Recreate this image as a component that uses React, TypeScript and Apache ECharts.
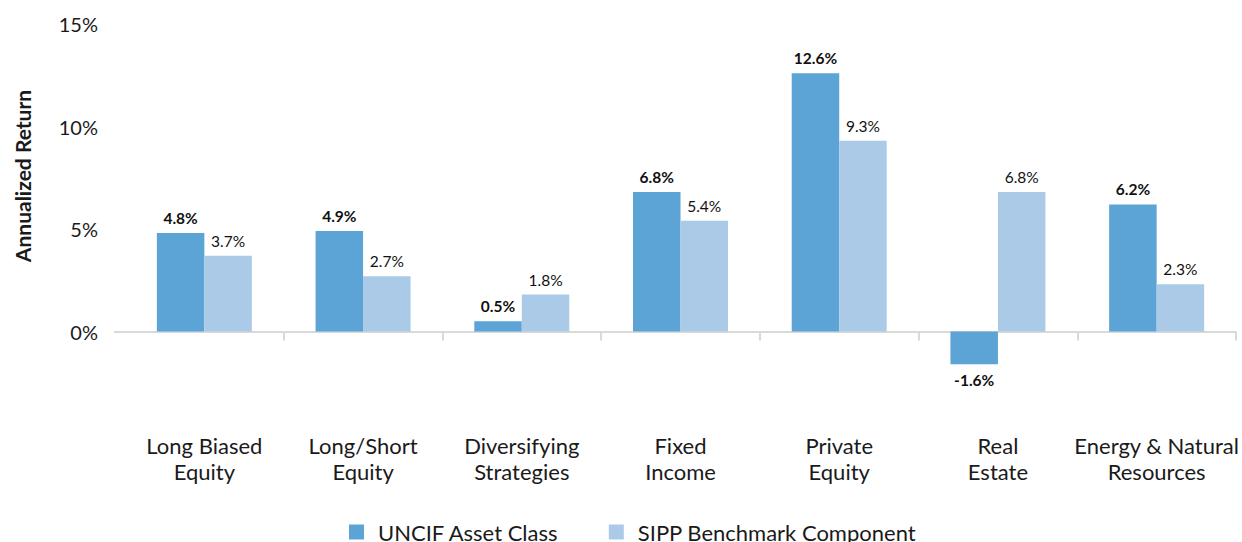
import React, { useEffect, useRef } from "react";
import * as echarts from "echarts";

const categories = [
  "Long Biased\nEquity",
  "Long/Short\nEquity",
  "Diversifying\nStrategies",
  "Fixed\nIncome",
  "Private\nEquity",
  "Real\nEstate",
  "Energy & Natural\nResources",
];
const uncifValues = [4.8, 4.9, 0.5, 6.8, 12.6, -1.6, 6.2];
const sippValues = [3.7, 2.7, 1.8, 5.4, 9.3, 6.8, 2.3];
const seriesNames = ["UNCIF Asset Class", "SIPP Benchmark Component"];
const yTicks = { min: -5, max: 15, interval: 5 };
const yAxisTitle = "Annualized Return";

const FONT = "Lato, 'Noto Sans', sans-serif";

export default function App() {
  const ref = useRef<HTMLDivElement>(null);
  useEffect(() => {
    document.body.style.margin = "0";
    const chart = echarts.init(ref.current!, null, { renderer: "svg" });
    const fmt = (v: number) => `${v.toFixed(1)}%`;
    const n = categories.length;
    chart.setOption({
      animation: false,
      textStyle: { fontFamily: FONT },
      grid: { left: 125, right: 3, top: 24, bottom: 108, containLabel: false },
      legend: {
        data: seriesNames,
        top: 516,
        left: 344,
        itemWidth: 15,
        itemHeight: 15,
        itemGap: 50,
        icon: "rect",
        textStyle: { fontSize: 22, color: "#1a1a1a", fontFamily: FONT, padding: [0, 0, 0, 9] },
      },
      xAxis: [
        {
          type: "category",
          data: categories,
          position: "bottom",
          axisLine: { show: false, onZero: false },
          axisTick: { show: false },
          axisLabel: {
            fontSize: 22,
            color: "#1a1a1a",
            lineHeight: 26,
            margin: -2,
            interval: 0,
          },
        },
        {
          type: "category",
          data: categories,
          position: "bottom",
          axisLine: { show: true, onZero: true, lineStyle: { color: "#d9d9d9", width: 2 } },
          axisTick: {
            show: true,
            length: 9,
            lineStyle: { color: "#d9d9d9", width: 2 },
            interval: (i: number) => i > 0 && i < n,
          },
          axisLabel: { show: false },
        },
      ],
      yAxis: {
        type: "value",
        min: yTicks.min,
        max: yTicks.max,
        interval: yTicks.interval,
        axisLine: { show: false },
        axisTick: { show: false },
        splitLine: { show: false },
        axisLabel: {
          fontSize: 20,
          color: "#1a1a1a",
          margin: 27,
          formatter: (v: number) => (v < 0 ? "" : `${v}%`),
        },
      },
      graphic: [
        {
          type: "line",
          shape: { x1: 114, y1: 332, x2: 126, y2: 332 },
          style: { stroke: "#d9d9d9", lineWidth: 2 },
        },
        {
          type: "text",
          x: 22,
          y: 176,
          rotation: Math.PI / 2,
          style: {
            text: yAxisTitle,
            fontSize: 21,
            fontWeight: "bold",
            fill: "#1a1a1a",
            fontFamily: FONT,
            align: "center",
            verticalAlign: "middle",
          },
        },
      ],
      series: [
        {
          name: seriesNames[0],
          type: "bar",
          xAxisIndex: 0,
          barWidth: 47.5,
          barGap: "0%",
          itemStyle: { color: "#5ca4d5" },
          label: {
            show: true,
            position: "top",
            distance: 7,
            fontSize: 15.5,
            fontWeight: "bold",
            color: "#111",
            formatter: (p: any) => fmt(p.value),
          },
          data: uncifValues.map((v) =>
            v < 0 ? { value: v, label: { position: "bottom", distance: 8 } } : v
          ),
        },
        {
          name: seriesNames[1],
          type: "bar",
          xAxisIndex: 0,
          barWidth: 47.5,
          barGap: "0%",
          itemStyle: { color: "#abcae7" },
          label: {
            show: true,
            position: "top",
            distance: 7,
            fontSize: 15.5,
            color: "#111",
            formatter: (p: any) => fmt(p.value),
          },
          data: sippValues,
        },
      ],
    });
    return () => chart.dispose();
  }, []);
  return <div ref={ref} style={{ width: 1242, height: 542 }} />;
}
